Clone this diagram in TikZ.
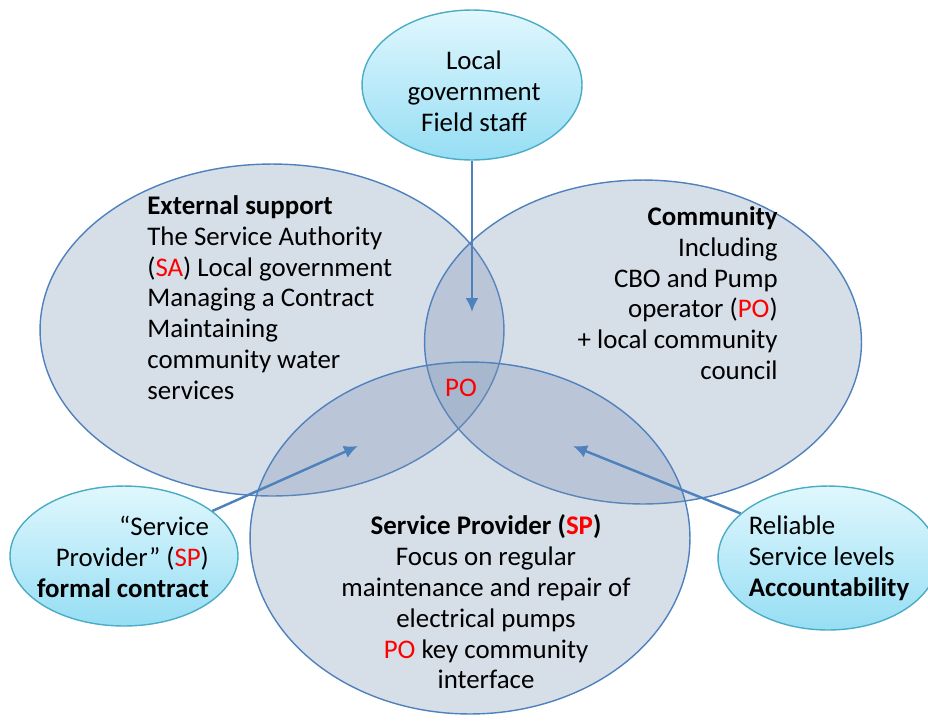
\documentclass[tikz,border=0pt]{standalone}
\usepackage{fontspec}
\setmainfont{Carlito}
\usetikzlibrary{shapes.geometric,arrows.meta}
\definecolor{bordcercle}{RGB}{79,129,189}
\definecolor{fondcercle}{RGB}{120,145,180}
\definecolor{bordbulle}{RGB}{75,172,198}
\definecolor{hautbulle}{RGB}{224,247,253}
\definecolor{basbulle}{RGB}{150,222,244}
\definecolor{couleurfleche}{RGB}{79,129,189}
\begin{document}
\begin{tikzpicture}[x=0.02cm,y=-0.02cm]
% Styles
\tikzstyle{cercle}=[ellipse,draw=bordcercle,line width=0.8pt,fill=fondcercle,fill opacity=0.3,draw opacity=1,inner sep=0]
\tikzstyle{bulle}=[ellipse,draw=bordbulle,line width=0.8pt,top color=hautbulle,bottom color=basbulle,inner sep=0]
\tikzstyle{texte}=[font=\fontsize{15.3}{17.6}\selectfont,inner sep=0]
\tikzstyle{fleche}=[-{Latex[length=2.8mm,width=2.6mm]},draw=couleurfleche,line width=1.4pt]
% Cadre
\useasboundingbox (0,0) rectangle (928,724);
% Grands cercles
\node[cercle,minimum width=9.28cm,minimum height=6.64cm] (support) at (272,330) {};
\node[cercle,minimum width=8.74cm,minimum height=6.48cm] (communaute) at (643,342) {};
\node[cercle,minimum width=8.8cm,minimum height=7.04cm] (prestataire) at (470,538) {};
% Textes des cercles
\node[texte,anchor=north west,align=left] (txtsupport) at (147,195)
  {\textbf{External support}\\The Service Authority\\(\textcolor{red}{SA}) Local government\\Managing a Contract\\Maintaining\\community water\\services};
\node[texte,anchor=north east,align=right] (txtcommunaute) at (778,206)
  {\textbf{Community}\\Including\\CBO and Pump\\operator (\textcolor{red}{PO})\\+ local community\\council};
\node[texte,anchor=north,align=center] (txtprestataire) at (486,514)
  {\textbf{Service Provider (\textcolor{red}{SP})}\\Focus on regular\\maintenance and repair of\\electrical pumps\\\textcolor{red}{PO} key community\\interface};
\node[texte,text=red] (po) at (461,388) {PO};
% Bulles
\node[bulle,minimum width=4.4cm,minimum height=3cm] (haut) at (472,85) {};
\node[bulle,minimum width=4.56cm,minimum height=2.8cm] (bulleG) at (124,556) {};
\node[bulle,minimum width=4.4cm,minimum height=2.88cm] (bulleD) at (828,558) {};
\node[texte,align=center] (txthaut) at (474,91) {Local\\government\\Field staff};
\node[texte,align=right] (txtbulleG) at (123,557) {“Service\\Provider” (\textcolor{red}{SP})\\\textbf{formal contract}};
\node[texte,align=left] (txtbulleD) at (829,558) {Reliable\\Service levels\\\textbf{Accountability}};
% Fleches
\coordinate (pointH) at (472,312);
\coordinate (pointG) at (358,446);
\coordinate (pointD) at (573,446);
\draw[fleche] (haut) -- (pointH);
\draw[fleche] (bulleG.27) -- (pointG);
\draw[fleche] (bulleD.153) -- (pointD);
\end{tikzpicture}
\end{document}
